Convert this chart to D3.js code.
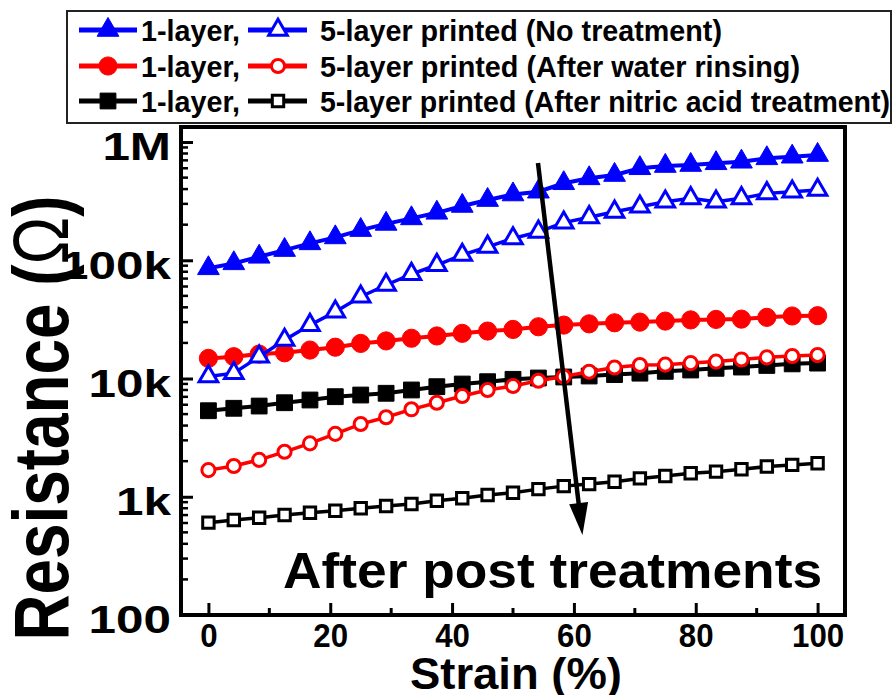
<!DOCTYPE html>
<html><head><meta charset="utf-8">
<script src="https://cdn.jsdelivr.net/npm/d3@7"></script>
<style>
body{margin:0;background:#fff}
svg{display:block;background:#fff}
text{font-family:"Liberation Sans",Arial,sans-serif;font-weight:bold;fill:#000}
</style>
</head><body>
<svg id="c" width="894" height="695"></svg>
<script>
// ---------------- DATA ----------------
const strain = [0,4.17,8.33,12.5,16.67,20.83,25,29.17,33.33,37.5,41.67,45.83,50,54.17,58.33,62.5,66.67,70.83,75,79.17,83.33,87.5,91.67,95.83,100];
const oneLayerNoTreatment = [85500,94200,107000,122000,139000,156000,180000,203000,226000,252000,288000,323000,360000,380000,448000,493000,526000,600000,627000,639000,661000,681000,728000,751000,776000];
const fiveLayerNoTreatment = [10400,11100,15300,21200,28300,36700,49200,61800,76500,91200,111000,130000,153000,174000,208000,231000,257000,284000,313000,334000,313000,334000,368000,380000,393000];
const oneLayerWater = [14800,15300,16100,16500,17400,18400,19800,20800,21900,22900,24100,25200,26000,27400,28300,29000,29600,30000,30600,31300,31600,31800,32900,33800,34000];
const fiveLayerWater = [1680,1820,2050,2400,2830,3400,4120,4700,5490,6240,7110,8000,8640,9580,10400,11400,12400,13000,13100,13500,13900,14500,15100,15500,15800];
const oneLayerNitric = [5340,5600,5850,6240,6580,7020,7250,7500,8000,8530,8980,9400,9840,10100,10300,10500,10800,11100,11500,11800,12200,12500,12900,13300,13500];
const fiveLayerNitric = [604,636,665,701,733,762,799,835,868,926,970,1035,1080,1160,1230,1280,1340,1430,1500,1580,1630,1710,1800,1860,1920];

const xTicks = [0,20,40,60,80,100];
const xMinorTicks = [10,30,50,70,90];
const yTickValues = [100,1000,10000,100000,1000000];
const yTickLabels = ["100","1k","10k","100k","1M"];
const legendOneLabel = "1-layer,";
const legendFiveLabels = ["5-layer printed (No treatment)","5-layer printed (After water rinsing)","5-layer printed (After nitric acid treatment)"];
const annotationText = "After post treatments";
const arrowStart = {x:54.1, y:664000};
const arrowEnd = {x:61.4, y:475};
const annotationPos = {x:12.25, y:169};

// ---------------- CHART ----------------
const svg = d3.select('#c');
const x = d3.scaleLinear().domain([-4.5,104.5]).range([181,845]);
const y = d3.scaleLog().domain([100,1.34e6]).range([615,127]);

const symType = {square:d3.symbolSquare, circle:d3.symbolCircle, triangle:d3.symbolTriangle};
const symSize = {square:[250,130], circle:[260,135], triangle:[205,150]};

const seriesDefs = [
  {vals:oneLayerNitric, color:'#000000', type:'square', open:false},
  {vals:fiveLayerNitric, color:'#000000', type:'square', open:true},
  {vals:oneLayerWater, color:'#ff0000', type:'circle', open:false},
  {vals:fiveLayerWater, color:'#ff0000', type:'circle', open:true},
  {vals:oneLayerNoTreatment, color:'#0000ff', type:'triangle', open:false},
  {vals:fiveLayerNoTreatment, color:'#0000ff', type:'triangle', open:true}
];

const line = d3.line().x((d,i)=>x(strain[i])).y(d=>y(d));

const plot = svg.append('g');
seriesDefs.forEach(s=>{
  const g = plot.append('g');
  g.append('path').attr('d', line(s.vals)).attr('fill','none')
    .attr('stroke', s.color).attr('stroke-width', s.open ? 3.5 : 4);
  const sym = d3.symbol().type(symType[s.type]).size(symSize[s.type][s.open?1:0]);
  g.selectAll('path.m').data(s.vals).join('path').attr('class','m')
    .attr('d', sym)
    .attr('transform', (d,i)=>`translate(${x(strain[i])},${y(d)})`)
    .attr('fill', s.open ? '#ffffff' : s.color)
    .attr('stroke', s.color)
    .attr('stroke-width', s.open ? 3 : 1);
});

// frame
svg.append('rect').attr('x',181).attr('y',127).attr('width',664).attr('height',488)
  .attr('fill','none').attr('stroke','#000').attr('stroke-width',4);

// x axis
const xAxis = svg.append('g').attr('transform','translate(0,615)')
  .call(d3.axisBottom(x).tickValues(xTicks).tickSize(-12).tickPadding(8));
xAxis.select('.domain').remove();
xAxis.selectAll('.tick line').attr('stroke','#000').attr('stroke-width',3);
xAxis.selectAll('.tick text').attr('font-size',34).attr('font-family','"Liberation Sans",Arial,sans-serif')
  .attr('font-weight','bold').attr('fill','#000').attr('transform','scale(0.92,1)');
svg.append('g').selectAll('line').data(xMinorTicks).join('line')
  .attr('x1',d=>x(d)).attr('x2',d=>x(d)).attr('y1',615).attr('y2',608)
  .attr('stroke','#000').attr('stroke-width',3);

// y axis
const yAxis = svg.append('g').attr('transform','translate(181,0)')
  .call(d3.axisLeft(y).tickValues(yTickValues).tickFormat((d,i)=>yTickLabels[i]).tickSize(-12).tickPadding(10));
yAxis.select('.domain').remove();
yAxis.selectAll('.tick line').attr('stroke','#000').attr('stroke-width',3);
yAxis.selectAll('.tick text').attr('font-size',38).attr('font-family','"Liberation Sans",Arial,sans-serif')
  .attr('font-weight','bold').attr('fill','#000')
  .attr('x',0).attr('dy','0.47em').attr('transform','translate(-10,0) scale(1.3,1)');
const yMinor = [];
for (let e=2;e<=5;e++) for (let k=2;k<=9;k++) yMinor.push(k*Math.pow(10,e));
svg.append('g').selectAll('line').data(yMinor).join('line')
  .attr('x1',181).attr('x2',188).attr('y1',d=>y(d)).attr('y2',d=>y(d))
  .attr('stroke','#000').attr('stroke-width',2.5);

// axis titles
svg.append('text').attr('x',516).attr('y',689).attr('text-anchor','middle')
  .attr('font-size',45).attr('textLength',212).attr('lengthAdjust','spacingAndGlyphs')
  .text('Strain (%)');
const yt = svg.append('text').attr('transform','translate(68,418) rotate(-90)')
  .attr('text-anchor','middle').attr('font-size',77)
  .attr('textLength',445).attr('lengthAdjust','spacingAndGlyphs');
yt.append('tspan').text('Resistance (');
yt.append('tspan').attr('font-weight','normal').text('Ω');
yt.append('tspan').text(')');

// annotation arrow
const ax0 = x(arrowStart.x), ay0 = y(arrowStart.y), ax1 = x(arrowEnd.x), ay1 = y(arrowEnd.y);
const len = Math.hypot(ax1-ax0, ay1-ay0), ux=(ax1-ax0)/len, uy=(ay1-ay0)/len;
const headL = 32, headW = 9.5;
const bx = ax1-ux*headL, by = ay1-uy*headL;
svg.append('line').attr('x1',ax0).attr('y1',ay0).attr('x2',bx+ux*4).attr('y2',by+uy*4)
  .attr('stroke','#000').attr('stroke-width',4.5);
svg.append('path').attr('d',`M${ax1},${ay1}L${bx-uy*headW},${by+ux*headW}L${bx+uy*headW},${by-ux*headW}Z`)
  .attr('fill','#000');
svg.append('text').attr('x',x(annotationPos.x)).attr('y',y(annotationPos.y))
  .attr('font-size',50).attr('textLength',539).attr('lengthAdjust','spacingAndGlyphs')
  .text(annotationText);

// legend
const lg = svg.append('g');
lg.append('rect').attr('x',67).attr('y',11).attr('width',824).attr('height',112)
  .attr('fill','#fff').attr('stroke','#222').attr('stroke-width',2);
const rowY = [30,66,101];
const legendDefs = [
  [seriesDefs[4], seriesDefs[5]],
  [seriesDefs[2], seriesDefs[3]],
  [seriesDefs[0], seriesDefs[1]]
];
const fiveWidths = [402,480,570];
legendDefs.forEach((pair,r)=>{
  const yy = rowY[r];
  const segs = [[79,137,108],[248,307,278]];
  pair.forEach((s,j)=>{
    const [a,b,m] = segs[j];
    lg.append('line').attr('x1',a).attr('x2',b).attr('y1',yy).attr('y2',yy)
      .attr('stroke',s.color).attr('stroke-width',5);
    const sym = d3.symbol().type(symType[s.type]).size(symSize[s.type][s.open?1:0]);
    lg.append('path').attr('d',sym).attr('transform',`translate(${m},${yy})`)
      .attr('fill', s.open ? '#fff' : s.color).attr('stroke',s.color)
      .attr('stroke-width', s.open?3:1);
  });
  lg.append('text').attr('x',141).attr('y',yy+11).attr('font-size',30)
    .attr('textLength',99).attr('lengthAdjust','spacingAndGlyphs').text(legendOneLabel);
  lg.append('text').attr('x',320).attr('y',yy+11).attr('font-size',30)
    .attr('textLength',fiveWidths[r]).attr('lengthAdjust','spacingAndGlyphs').text(legendFiveLabels[r]);
});
</script>
</body></html>
